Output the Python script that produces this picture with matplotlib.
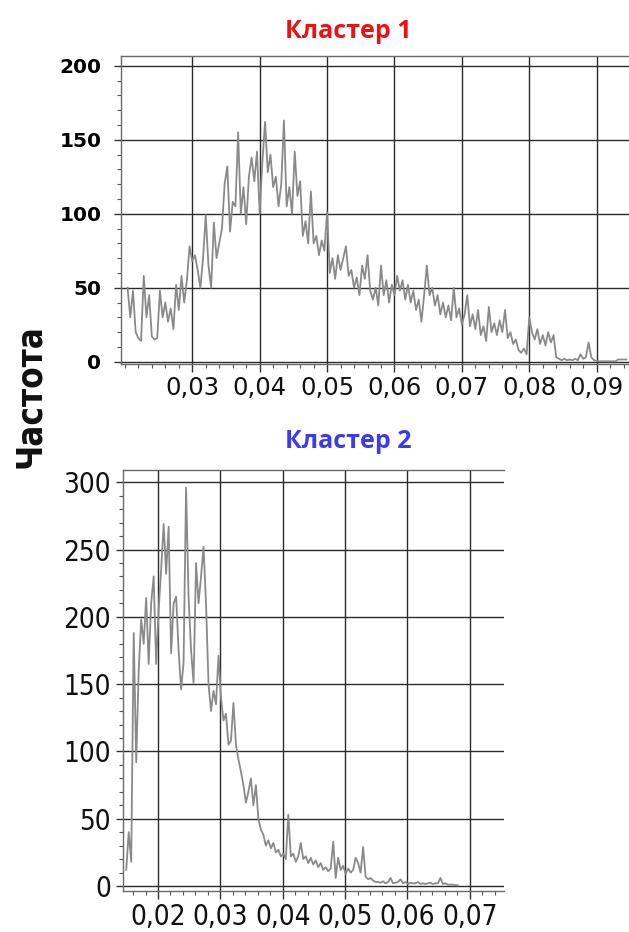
import numpy as np
import matplotlib
matplotlib.use("Agg")
import matplotlib.pyplot as plt
from matplotlib.ticker import MultipleLocator, FixedLocator, FuncFormatter

# ---------------- data ----------------
c1_title = "Кластер 1"
c2_title = "Кластер 2"
y_label = "Частота"

c1_start = 0.0204
c1_bin = 0.0004
c1_counts = [
    50, 30, 48, 20, 16, 14, 58, 30, 45, 17,
    15, 16, 48, 30, 40, 27, 36, 22, 52, 35,
    58, 40, 55, 78, 68, 72, 62, 50, 70, 99,
    65, 50, 94, 70, 80, 90, 120, 132, 88, 108,
    105, 155, 100, 118, 93, 125, 138, 122, 142, 100,
    135, 162, 128, 140, 118, 125, 105, 120, 163, 105,
    118, 100, 142, 112, 122, 85, 95, 80, 115, 80,
    85, 72, 82, 75, 101, 60, 70, 56, 72, 62,
    70, 78, 58, 62, 50, 57, 45, 65, 56, 72,
    48, 42, 50, 38, 65, 45, 55, 40, 52, 45,
    58, 48, 55, 42, 52, 40, 48, 35, 42, 27,
    45, 65, 45, 50, 38, 45, 32, 40, 30, 38,
    28, 50, 30, 36, 25, 32, 45, 24, 32, 22,
    35, 18, 24, 14, 37, 20, 26, 18, 28, 20,
    35, 16, 20, 12, 15, 8, 6, 9, 5, 30,
    20, 15, 22, 12, 18, 11, 20, 13, 18, 3,
    2, 1, 2, 1, 1.5, 1, 2, 1, 5, 2,
    3, 13, 3, 1, 0.5, 0.3, 0.3, 0.3, 0.3, 0.3,
    0.3, 0.3, 1.5, 1.5, 1.5, 1.5,
]

c2_start = 0.0149
c2_bin = 0.0004
c2_counts = [
    12, 40, 18, 188, 92, 160, 198, 180, 214, 165,
    210, 230, 165, 205, 235, 269, 232, 267, 173, 210,
    215, 175, 146, 166, 296, 215, 175, 151, 240, 210,
    230, 252, 210, 150, 130, 145, 135, 171, 140, 123,
    128, 105, 108, 136, 105, 94, 85, 75, 62, 70,
    80, 60, 75, 50, 42, 38, 30, 34, 28, 32,
    25, 27, 22, 24, 20, 53, 22, 24, 18, 22,
    32, 20, 22, 17, 21, 16, 19, 14, 17, 12,
    14, 11, 13, 33, 6, 21, 12, 15, 9, 13,
    10, 12, 21, 17, 10, 29, 7, 5, 6, 4,
    3, 3, 2.5, 3.5, 2, 3, 6, 2, 2.5, 3,
    5, 2, 3, 1.5, 2.5, 2, 2, 3, 1.5, 2,
    1.5, 2, 2.5, 1.5, 2, 2, 6, 1.5, 2, 1,
    1, 1, 0.7, 0.5,
]

c1_xticks = [0.03, 0.04, 0.05, 0.06, 0.07, 0.08, 0.09]
c1_yticks = [0, 50, 100, 150, 200]
c2_xticks = [0.02, 0.03, 0.04, 0.05, 0.06, 0.07]
c2_yticks = [0, 50, 100, 150, 200, 250, 300]

# ---------------- figure ----------------
W, H = 629, 932
fig = plt.figure(figsize=(W / 100, H / 100), dpi=100)
fig.patch.set_facecolor("white")

LINE = "#8a8a8a"
GRID = "#2b2b2b"
SPINE = "#6a6a6a"


def px_axes(left, top, right, bottom):
    return fig.add_axes([left / W, 1 - bottom / H, (right - left) / W, (bottom - top) / H])


def comma_fmt(v, pos):
    return f"{v:.2f}".replace(".", ",")


def style(ax, xticks, yticks, xminor, yminor):
    ax.xaxis.set_major_locator(FixedLocator(xticks))
    ax.yaxis.set_major_locator(FixedLocator(yticks))
    ax.xaxis.set_minor_locator(MultipleLocator(xminor))
    ax.yaxis.set_minor_locator(MultipleLocator(yminor))
    ax.xaxis.set_major_formatter(FuncFormatter(comma_fmt))
    ax.grid(which="major", color=GRID, lw=1.0, zorder=1)
    ax.set_axisbelow(True)
    for s in ["top", "left", "bottom"]:
        ax.spines[s].set_color(SPINE)
        ax.spines[s].set_linewidth(1.0)
    ax.spines["right"].set_visible(False)
    ax.tick_params(which="major", direction="out", length=5, width=1.0, color="#333333")
    ax.tick_params(which="minor", direction="out", length=3, width=0.8, color="#555555")
    ax.tick_params(axis="x", which="major", length=6)


# ---- top panel ----
ax1 = px_axes(120.7, 55.7, 632, 363.5)
x1 = c1_start + c1_bin * np.arange(len(c1_counts))
ax1.plot(x1, c1_counts, color=LINE, lw=1.3, zorder=3)
ax1.set_xlim(0.01938, 0.09524)
ax1.set_ylim(-1.2, 206.8)
style(ax1, c1_xticks, c1_yticks, 0.002, 10)
ax1.tick_params(axis="y", which="major", pad=9)
ax1.tick_params(axis="x", which="major", pad=3)
for lab in ax1.get_yticklabels():
    lab.set_fontfamily("DejaVu Sans")
    lab.set_fontweight("bold")
    lab.set_fontsize(14.5)
for lab in ax1.get_xticklabels():
    lab.set_fontfamily("DejaVu Sans")
    lab.set_fontsize(17.5)
    lab.set_color("#111111")

# ---- bottom panel ----
ax2 = px_axes(123.3, 470, 504, 891)
x2 = c2_start + c2_bin * np.arange(len(c2_counts))
ax2.plot(x2, c2_counts, color=LINE, lw=1.3, zorder=3)
ax2.set_xlim(0.01443, 0.0755)
ax2.set_ylim(-3.7, 309.1)
style(ax2, c2_xticks, c2_yticks, 0.002, 10)
ax2.tick_params(axis="y", which="major", pad=4)
ax2.tick_params(axis="x", which="major", pad=3)
for lab in ax2.get_yticklabels() + ax2.get_xticklabels():
    lab.set_fontfamily("DejaVu Sans")
    lab.set_fontstretch("condensed")
    lab.set_fontsize(20)
    lab.set_color("#111111")

# ---- titles and shared label ----
fig.text(348 / W, 1 - 31 / H, c1_title, ha="center", va="center",
         fontsize=18, fontweight="bold", color="#ee1111",
         family=["Open Sans", "DejaVu Sans"])
fig.text(348 / W, 1 - 441 / H, c2_title, ha="center", va="center",
         fontsize=18, fontweight="bold", color="#3a3aee",
         family=["Open Sans", "DejaVu Sans"])
fig.text(30 / W, 1 - 396 / H, y_label, ha="center", va="center", rotation=90,
         fontsize=25, fontweight="bold", fontstretch="condensed", color="#111111",
         family=["DejaVu Sans"])

fig.savefig("out.png", dpi=100, facecolor="white")
